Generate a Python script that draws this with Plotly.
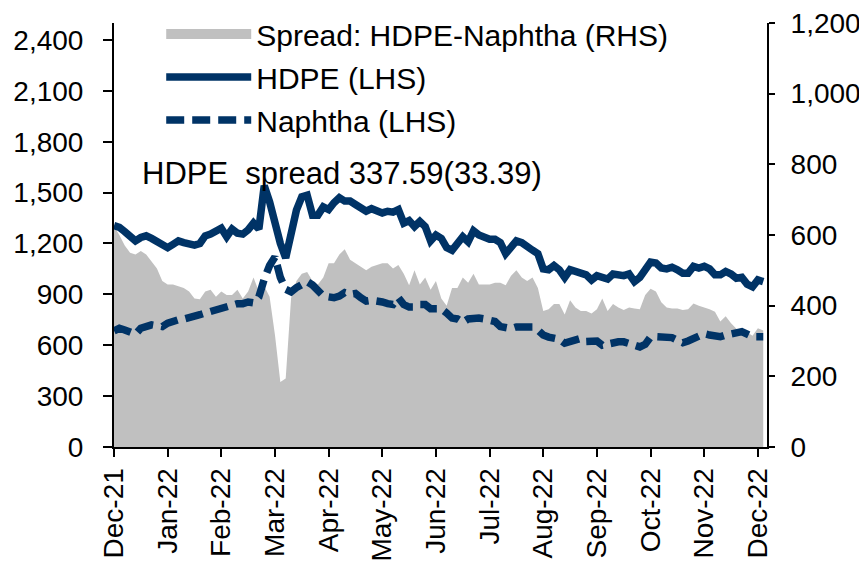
import plotly.graph_objects as go

# Tick labels (one every 10 points on a category-like index axis)
months = ["Dec-21", "Jan-22", "Feb-22", "Mar-22", "Apr-22", "May-22", "Jun-22",
          "Jul-22", "Aug-22", "Sep-22", "Oct-22", "Nov-22", "Dec-22"]
POINTS_PER_MONTH = 10

# HDPE price (LHS)
hdpe = [1305, 1295, 1270, 1240, 1215, 1235, 1245, 1230, 1215, 1190,
        1175, 1195, 1215, 1205, 1195, 1190, 1200, 1245, 1255, 1270,
        1290, 1240, 1285, 1260, 1255, 1280, 1320, 1285, 1540, 1446,
        1310, 1200, 1115, 1260, 1397, 1475, 1485, 1367, 1367, 1416,
        1400, 1440, 1470, 1450, 1450, 1430, 1410, 1390, 1405, 1395,
        1380, 1390, 1385, 1400, 1320, 1335, 1300, 1330, 1300, 1215,
        1250, 1230, 1175, 1160, 1210, 1240, 1210, 1275, 1250, 1235,
        1225, 1225, 1205, 1140, 1180, 1215, 1205, 1175, 1160, 1140,
        1050, 1045, 1070, 1045, 1000, 1045, 1040, 1025, 1015, 985,
        1010, 1000, 990, 1020, 1015, 1010, 1020, 975, 1000, 1050,
        1090, 1085, 1055, 1050, 1060, 1045, 1025, 1025, 1065, 1055,
        1065, 1050, 1015, 1015, 1035, 1020, 995, 1000, 960, 945,
        985, 975]

# Naphtha price (LHS)
naphtha = [685, 700, 690, 675, 665, 700, 715, 720, 715, 710,
           730, 745, 750, 755, 760, 770, 780, 790, 800, 805,
           815, 825, 835, 845, 845, 855, 850, 885, 990, 1070,
           1120, 1000, 930, 915, 940, 960, 975, 955, 915, 890,
           885, 880, 890, 910, 900, 905, 880, 860, 865, 862,
           855, 845, 840, 880, 840, 825, 825, 840, 840, 815,
           820, 815, 790, 760, 755, 735, 755, 760, 760, 755,
           750, 740, 710, 700, 698, 708, 705, 708, 708, 690,
           660, 648, 640, 635, 612, 625, 632, 640, 622, 620,
           625, 600, 610, 620, 620, 620, 610, 595, 590, 605,
           648, 650, 650, 650, 645, 630, 615, 625, 640, 665,
           668, 660, 655, 650, 660, 670, 675, 680, 665, 650,
           650, 650]

# Spread: HDPE - Naphtha (RHS)
spread = [625, 600, 570, 550, 545, 555, 545, 525, 505, 470,
          460, 460, 455, 450, 440, 420, 418, 440, 445, 425,
          440, 430, 430, 445, 420, 440, 480, 440, 455, 425,
          317, 184, 194, 421, 470, 490, 495, 470, 460, 480,
          520, 520, 545, 560, 530, 520, 510, 500, 510, 515,
          520, 520, 505, 515, 490, 458, 500, 460, 480, 445,
          470, 420, 400, 450, 450, 480, 465, 490, 460, 460,
          460, 465, 465, 458, 485, 500, 480, 470, 480, 450,
          385, 390, 405, 405, 375, 415, 395, 385, 385, 378,
          390, 420, 385, 405, 395, 388, 395, 392, 390, 430,
          448, 440, 410, 395, 392, 392, 388, 390, 406, 400,
          395, 390, 383, 355, 370, 350, 335, 320, 325, 315,
          336, 330]

idx = list(range(len(hdpe)))
tickvals = [i * POINTS_PER_MONTH for i in range(len(months))]

NAVY = "#003366"
GREY = "#c0c0c0"
FONT = "Liberation Sans"
FS = 28

fig = go.Figure()
fig.add_trace(go.Scatter(x=idx, y=spread, yaxis="y", mode="none", fill="tozeroy",
                         fillcolor=GREY, showlegend=False, hoverinfo="skip"))
fig.add_trace(go.Scatter(x=[None], y=[None], yaxis="y", mode="lines",
                         line=dict(color=GREY, width=16),
                         name="Spread: HDPE-Naphtha (RHS)", legendgroup="a"))
fig.add_trace(go.Scatter(x=idx, y=hdpe, yaxis="y2", mode="lines",
                         line=dict(color=NAVY, width=7.5),
                         name="HDPE (LHS)", legendgroup="b"))
fig.add_trace(go.Scatter(x=idx, y=naphtha, yaxis="y2", mode="lines",
                         line=dict(color=NAVY, width=7.5, dash="18px,8px"),
                         name="Naphtha (LHS)", legendgroup="c"))

axis_common = dict(showgrid=False, zeroline=False, showline=True, linecolor="black",
                   linewidth=2, ticks="outside", tickcolor="black", tickwidth=2,
                   automargin=False, ticklabeloverflow="allow",
                   tickfont=dict(family=FONT, size=FS, color="black"))

# The page body adds an 8px margin, so the figure is sized 8px smaller
fig.update_layout(
    width=859, height=557,
    margin=dict(l=106, r=100, t=15, b=118, autoexpand=False),
    paper_bgcolor="white", plot_bgcolor="white",
    font=dict(family=FONT, size=FS, color="black"),
    xaxis=dict(range=[0, 121.7], tickvals=tickvals, ticktext=months, tickangle=-90,
               ticklen=8, **axis_common),
    yaxis=dict(side="right", range=[0, 1200], dtick=200, tickformat=",",
               ticklen=6, ticklabelstandoff=10, **axis_common),
    yaxis2=dict(side="left", overlaying="y", range=[0, 2500], dtick=300, tickformat=",",
                ticklen=9, ticklabelstandoff=14, **axis_common),
    legend=dict(x=0.0723, y=1.0354, xanchor="left", yanchor="top", bgcolor="rgba(0,0,0,0)",
                itemwidth=85, tracegroupgap=1,
                font=dict(family=FONT, size=30, color="black")),
    annotations=[dict(x=0.04, y=0.644, xref="paper", yref="paper", xanchor="left",
                      yanchor="middle", showarrow=False,
                      text="HDPE\u00a0\u00a0spread 337.59(33.39)",
                      font=dict(family=FONT, size=31, color="black"))],
    showlegend=True,
)

fig.write_html("out.html")
